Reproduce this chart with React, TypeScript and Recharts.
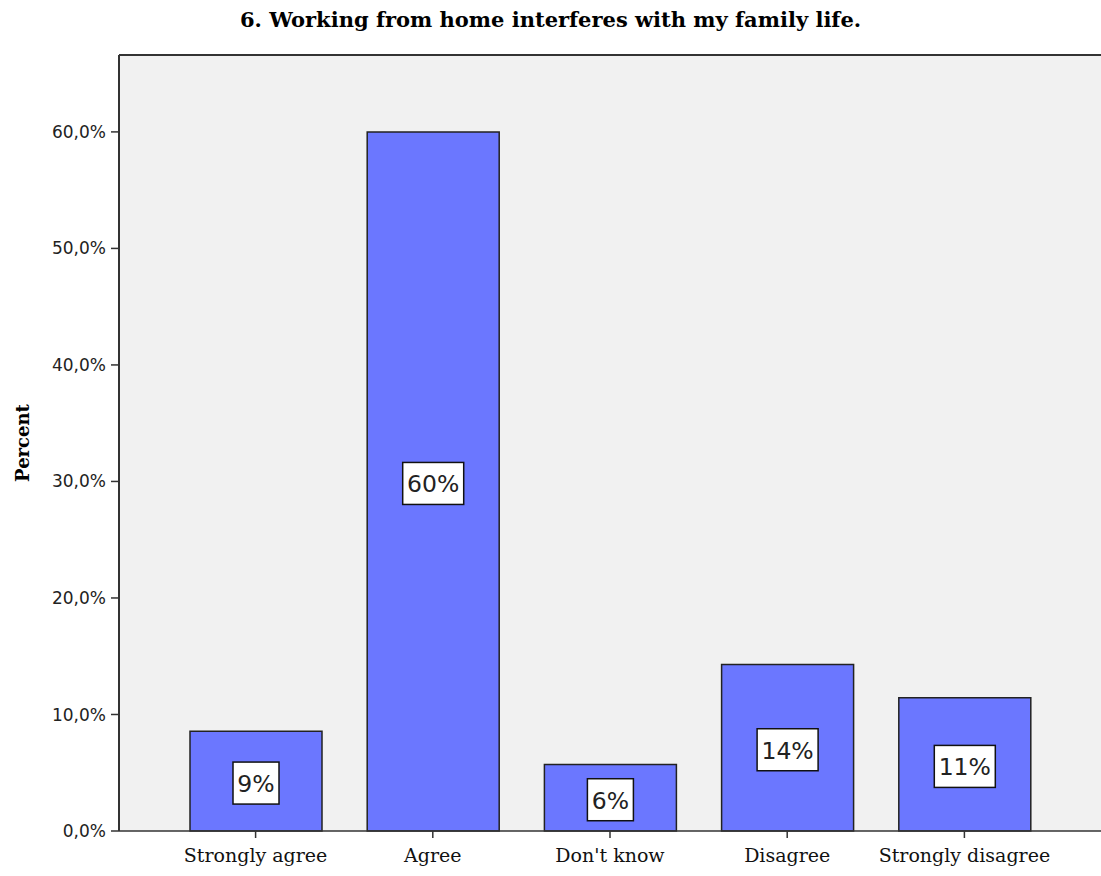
import { BarChart, Bar, XAxis, YAxis, CartesianGrid, LabelList, ReferenceLine } from "recharts";

const categories = ["Strongly agree", "Agree", "Don't know", "Disagree", "Strongly disagree"];
const percents = [8.57, 60.0, 5.71, 14.29, 11.43];
const yTicks = [0, 10, 20, 30, 40, 50, 60];
const yMax = 66.6;

const title = "6. Working from home interferes with my family life.";

const data = categories.map((name, i) => ({ name, value: percents[i] }));

const serif = "'DejaVu Serif', 'Liberation Serif', serif";
const sans = "'DejaVu Sans', sans-serif";

function BoxLabel(props: any) {
  const { x, y, width, height, value } = props;
  const txt = Math.round(Number(value)) + "%";
  const w = txt.length * 15 + 16;
  const h = 42;
  const cx = x + width / 2;
  const cy = y + height / 2 + 2;
  return (
    <g>
      <rect x={cx - w / 2} y={cy - h / 2} width={w} height={h} fill="#fff" stroke="#111" strokeWidth={1.5} />
      <text x={cx} y={cy + 1} textAnchor="middle" dominantBaseline="central" fontFamily={sans} fontSize={23.5} fill="#222">
        {txt}
      </text>
    </g>
  );
}

function YLabel({ viewBox }: any) {
  const cy = viewBox.y + viewBox.height / 2;
  return (
    <text
      x={22}
      y={cy}
      transform={`rotate(-90 22 ${cy})`}
      textAnchor="middle"
      dominantBaseline="central"
      fontFamily={serif}
      fontWeight="bold"
      fontSize={18}
      fill="#000"
    >
      Percent
    </text>
  );
}

export default function App() {
  return (
    <div style={{ position: "absolute", left: 0, top: 0, width: 1101, height: 876, background: "#fff", overflow: "hidden" }}>
      <div
        style={{
          position: "absolute",
          left: 0,
          top: 6,
          width: 1101,
          textAlign: "center",
          fontFamily: serif,
          fontWeight: "bold",
          fontSize: 21,
          lineHeight: "28px",
          color: "#000",
        }}
      >
        {title}
      </div>
      <BarChart width={1101} height={876} data={data} margin={{ top: 55, right: 0, bottom: 0, left: 0 }}>
        <CartesianGrid horizontal={false} vertical={false} fill="#f1f1f1" />
        <XAxis
          dataKey="name"
          padding={{ left: 48, right: 48 }}
          height={45}
          tickSize={7}
          tickMargin={11}
          tickLine={{ stroke: "#333", strokeWidth: 1.5 }}
          axisLine={{ stroke: "#333", strokeWidth: 1.5 }}
          tick={{ fontFamily: serif, fontSize: 19, fill: "#111" }}
          interval={0}
        />
        <YAxis
          width={119}
          domain={[0, yMax]}
          ticks={yTicks}
          tickFormatter={(v: number) => v.toFixed(1).replace(".", ",") + "%"}
          tickSize={8}
          tickMargin={5}
          tickLine={{ stroke: "#333", strokeWidth: 1.5 }}
          axisLine={{ stroke: "#333", strokeWidth: 2 }}
          tick={{ fontFamily: sans, fontSize: 17, fill: "#222" }}
          label={<YLabel />}
        />
        <ReferenceLine y={yMax} stroke="#333" strokeWidth={2} />
        <Bar dataKey="value" barSize={132} fill="#6b77ff" stroke="#222" strokeWidth={1.5} isAnimationActive={false}>
          <LabelList dataKey="value" content={<BoxLabel />} />
        </Bar>
      </BarChart>
    </div>
  );
}
